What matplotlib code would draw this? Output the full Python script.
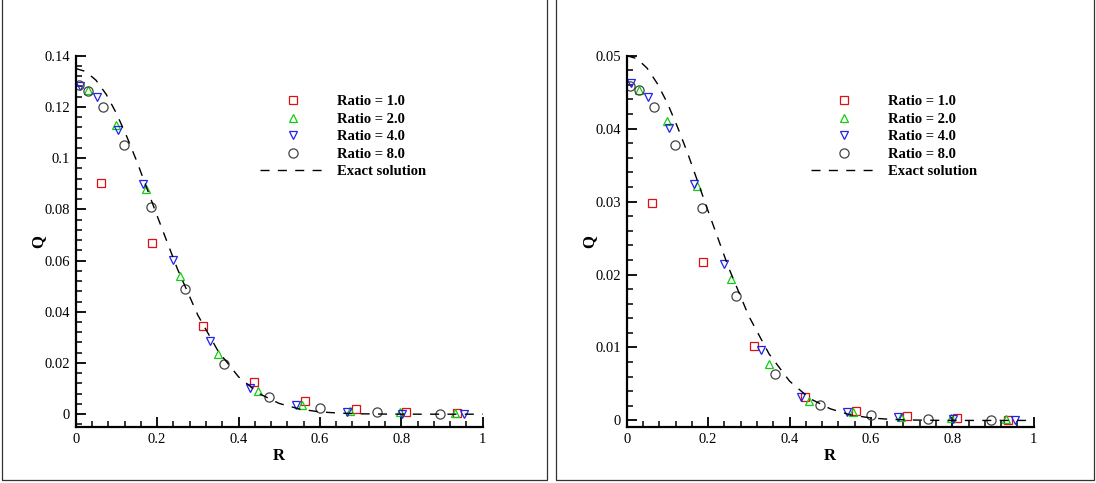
import numpy as np
import matplotlib.pyplot as plt
from matplotlib.patches import Rectangle
from matplotlib.ticker import MultipleLocator, FuncFormatter

plt.rcParams['font.family'] = ['Liberation Serif', 'DejaVu Serif']

# radial cell centres for each grid ratio
r_ratio1 = [0.0625, 0.1875, 0.3125, 0.4375, 0.5625, 0.6875, 0.8125, 0.9375]
r_ratio2 = [0.031, 0.098, 0.172, 0.256, 0.349, 0.448, 0.557, 0.673, 0.798, 0.931]
r_ratio4 = [0.011, 0.053, 0.103, 0.165, 0.239, 0.329, 0.429, 0.541, 0.667, 0.802, 0.954]
r_ratio8 = [0.007, 0.031, 0.068, 0.119, 0.186, 0.269, 0.364, 0.474, 0.600, 0.740, 0.894]

# case A (left)
qa_ratio1 = [0.0904, 0.0668, 0.0345, 0.0126, 0.0052, 0.0022, 0.0009, 0.0005]
qa_ratio2 = [0.1266, 0.1130, 0.0879, 0.0540, 0.0234, 0.0089, 0.0036, 0.0014, 0.0008, 0.0005]
qa_ratio4 = [0.1283, 0.1238, 0.1110, 0.0898, 0.0603, 0.0284, 0.0104, 0.0036, 0.0010, 0.0002, 0.0000]
qa_ratio8 = [0.1285, 0.1264, 0.1201, 0.1052, 0.0811, 0.0488, 0.0195, 0.0069, 0.0026, 0.0009, 0.0002]

# case B (right)
qb_ratio1 = [0.0298, 0.0217, 0.0102, 0.0032, 0.0013, 0.0006, 0.0003, 0.0001]
qb_ratio2 = [0.0453, 0.0411, 0.0322, 0.0194, 0.0077, 0.0027, 0.0011, 0.0005, 0.0003, 0.0002]
qb_ratio4 = [0.0462, 0.0444, 0.0401, 0.0324, 0.0214, 0.0096, 0.0032, 0.0011, 0.0005, 0.0002, 0.0000]
qb_ratio8 = [0.0458, 0.0453, 0.0430, 0.0378, 0.0291, 0.0170, 0.0063, 0.0021, 0.0008, 0.0002, 0.0000]

# exact solution sampled along R
r_exact = [0.0, 0.025, 0.05, 0.075, 0.1, 0.125, 0.15, 0.2, 0.25, 0.3, 0.35, 0.4, 0.45, 0.5,
           0.55, 0.6, 0.65, 0.7, 0.75, 0.8, 0.85, 0.9, 0.95, 1.0]
qa_exact = [0.1350, 0.1338, 0.1304, 0.1249, 0.1175, 0.1086, 0.0988, 0.0775, 0.0567, 0.0387,
            0.0246, 0.0146, 0.0081, 0.0042, 0.0020, 0.0009, 0.0004, 0.00015, 0.00006, 0.00002,
            0.0, 0.0, 0.0, 0.0]
qb_exact = [0.0500, 0.0496, 0.0483, 0.0462, 0.0435, 0.0402, 0.0366, 0.0287, 0.0210, 0.0143,
            0.0091, 0.0054, 0.0030, 0.0016, 0.00075, 0.00034, 0.00014, 0.00006, 0.00002, 0.0,
            0.0, 0.0, 0.0, 0.0]

labels = ['Ratio = 1.0', 'Ratio = 2.0', 'Ratio = 4.0', 'Ratio = 8.0', 'Exact solution']

W, H = 1096, 483
fig = plt.figure(figsize=(W / 100, H / 100), dpi=100)


def fmt(v, pos):
    s = f"{v:.3f}".rstrip('0').rstrip('.')
    return '0' if s in ('-0', '0') else s


def panel(x0, qs, q_exact, ymin, ymax, ymajor, yminor):
    ax = fig.add_axes([x0 / W, 56 / H, 407 / W, 371.3 / H])
    ax.plot(r_ratio1, qs[0], ls='none', marker='s', ms=5.2, mfc='none', mec='#dd1111', mew=0.9, label=labels[0])
    ax.plot(r_ratio2, qs[1], ls='none', marker='^', ms=6.2, mfc='none', mec='#11cc11', mew=0.9, label=labels[1])
    ax.plot(r_ratio4, qs[2], ls='none', marker='v', ms=6.2, mfc='none', mec='#2222ee', mew=0.9, label=labels[2])
    ax.plot(r_ratio8, qs[3], ls='none', marker='o', ms=6.6, mfc='none', mec='#444444', mew=0.9, label=labels[3])
    ax.plot(r_exact, q_exact, color='black', lw=1.0, dashes=(6.5, 6), label=labels[4])

    ax.set_xlim(0, 1)
    ax.set_ylim(ymin, ymax)
    for s in ('top', 'right'):
        ax.spines[s].set_visible(False)
    for s in ('left', 'bottom'):
        ax.spines[s].set_linewidth(1.6)
    ax.xaxis.set_major_locator(MultipleLocator(0.2))
    ax.xaxis.set_minor_locator(MultipleLocator(0.04))
    ax.yaxis.set_major_locator(MultipleLocator(ymajor))
    ax.yaxis.set_minor_locator(MultipleLocator(yminor))
    ax.xaxis.set_major_formatter(FuncFormatter(fmt))
    ax.yaxis.set_major_formatter(FuncFormatter(fmt))
    ax.tick_params(which='major', direction='in', length=7, width=1.3, labelsize=10.5, pad=4)
    ax.tick_params(which='minor', direction='in', length=4, width=1.1)
    ax.set_xlabel('R', fontsize=12, fontweight='bold', labelpad=2)
    ax.set_ylabel('Q', fontsize=12, fontweight='bold', labelpad=-1)

    ax.legend(loc='upper left', bbox_to_anchor=(184.3 / 407, 1 - 39.5 / 371.3),
              frameon=False, borderaxespad=0, borderpad=0,
              prop={'weight': 'bold', 'size': 10.5},
              handlelength=4.46, handletextpad=0.8, labelspacing=0.29, numpoints=1)
    return ax


panel(75.7, [qa_ratio1, qa_ratio2, qa_ratio4, qa_ratio8], qa_exact, -0.005, 0.14, 0.02, 0.004)
panel(626.7, [qb_ratio1, qb_ratio2, qb_ratio4, qb_ratio8], qb_exact, -0.0009, 0.05, 0.01, 0.002)

# frames around each panel
for left, right in ((2, 547), (556, 1094)):
    fig.add_artist(Rectangle((left / W, 3.5 / H), (right - left) / W, 1.0, transform=fig.transFigure,
                             fill=False, edgecolor='#333333', lw=0.9))

fig.savefig('out.png', dpi=100)
